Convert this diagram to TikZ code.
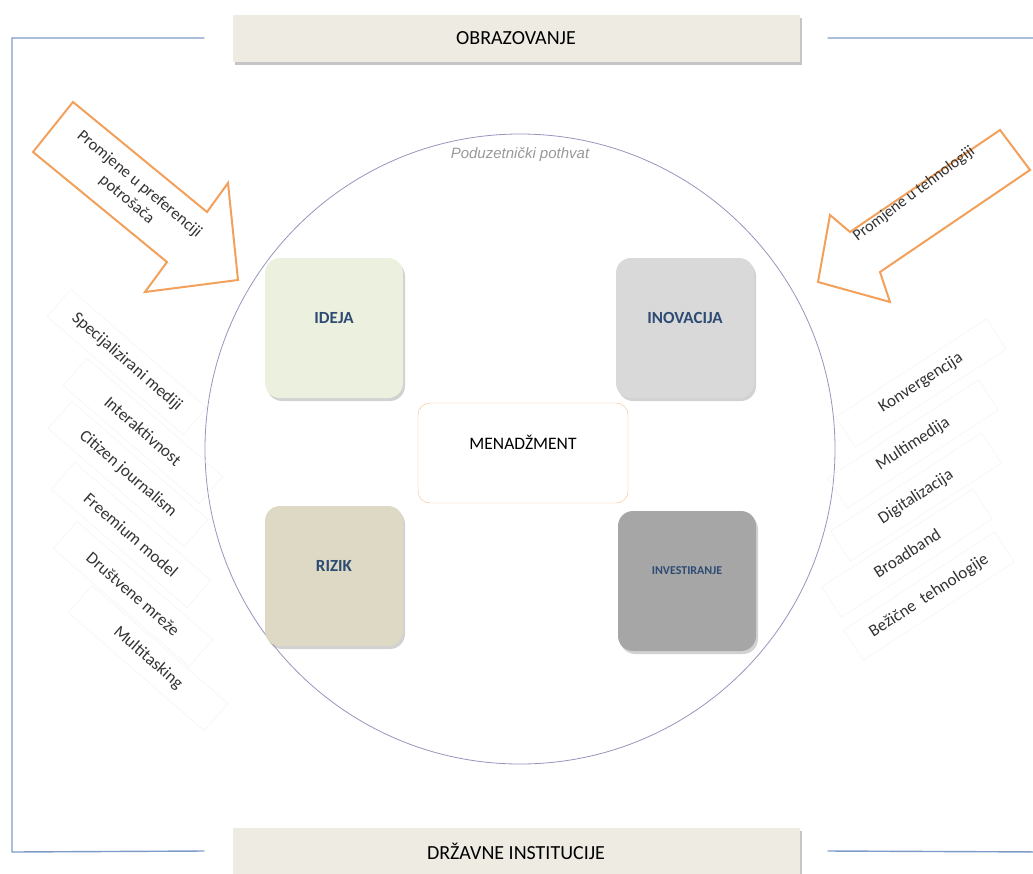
\documentclass[tikz,border=0pt]{standalone}
\usepackage{fontspec}
\setmainfont{Carlito}
\newfontfamily\arialfont{Liberation Sans}
\usetikzlibrary{positioning,shadows}
\definecolor{okvir}{RGB}{125,155,200}
\definecolor{traka}{RGB}{238,236,226}
\definecolor{narancasta}{RGB}{242,160,90}
\definecolor{krugboja}{RGB}{150,150,190}
\definecolor{plava}{RGB}{45,75,115}
\definecolor{ideja}{RGB}{235,241,222}
\definecolor{inovacija}{RGB}{217,217,217}
\definecolor{rizik}{RGB}{221,217,196}
\definecolor{investiranje}{RGB}{166,166,166}
\tikzset{
	bar/.style={fill=traka, minimum width=567pt, minimum height=47pt, font=\fontsize{20}{22}\selectfont,
		drop shadow={shadow xshift=2pt, shadow yshift=-3pt, opacity=.45}},
	kutija/.style={rounded corners=15pt, minimum width=138pt, minimum height=140pt, text=plava,
		font=\bfseries\fontsize{17}{19}\selectfont, text depth=20pt,
		drop shadow={shadow xshift=2pt, shadow yshift=-3pt, opacity=.35}},
	oznaka/.style={draw=black!5, minimum width=180pt, minimum height=36pt, text=black!80,
		font=\fontsize{17}{19}\selectfont},
	strelica/.style={draw=narancasta, line width=2pt, line join=miter}
}
\begin{document}
\begin{tikzpicture}[x=1pt,y=-1pt]
	\useasboundingbox (0,0) rectangle (1033,873);
	\fill[white] (0,0) rectangle (1033,873);

	\node (obrazovanje) [bar] at (516,38) {OBRAZOVANJE};
	\node (institucije) [bar] at (516,851) {DRŽAVNE INSTITUCIJE};
	\draw [okvir, line width=1.4pt] ([xshift=-28pt]obrazovanje.west) -- (12,38) -- (12,852) -- ([xshift=-28pt]institucije.west);
	\draw [okvir, line width=1.4pt] ([xshift=28pt]obrazovanje.east) -- (1045,38) -- (1045,852) -- ([xshift=28pt]institucije.east);

	\node (krug) [circle, draw=krugboja, line width=.8pt, minimum size=630pt] at (520,449) {};
	\node (naziv) [below=10pt of krug.north, text=black!40, font=\arialfont\itshape\fontsize{15}{17}\selectfont] {Poduzetnički pothvat};

	\node (idejabox) [kutija, fill=ideja] at (334,328) {IDEJA};
	\node (inovacijabox) [kutija, fill=inovacija] at (685,328) {INOVACIJA};
	\node (rizikbox) [kutija, fill=rizik] at (334,576) {RIZIK};
	\node (investiranjebox) [kutija, fill=investiranje, font=\bfseries\fontsize{12}{14}\selectfont] at (687,581) {INVESTIRANJE};
	\node (menadzment) [draw=narancasta!70, fill=white, rounded corners=12pt, minimum width=210pt, minimum height=100pt,
		text depth=22pt, font=\fontsize{17.5}{19}\selectfont] at (523,453) {MENADŽMENT};

	% strelice
	\draw [strelica] (73,102) -- (207,212) -- (228,183) -- (238,280) -- (145,292) -- (167,262) -- (33,152) -- cycle;
	\node (preferencije) [rotate=-40, align=center, text=black!80, font=\fontsize{16.5}{20}\selectfont] at (133,192) {Promjene u preferenciji\\potrošača};
	\draw [strelica] (1000,130) -- (850,232) -- (830,215) -- (818,282) -- (890,302) -- (880,272) -- (1030,170) -- cycle;
	\node (tehnologija) [rotate=37, text=black!80, font=\fontsize{16}{18}\selectfont] at (914,194) {Promjene u tehnologiji};

	\node (mediji) [oznaka, rotate=-41] at (127,362) {Specijalizirani mediji};
	\node (interaktivnost) [oznaka, rotate=-41] at (143,431) {Interaktivnost};
	\node (citizen) [oznaka, rotate=-41] at (128,474) {Citizen journalism};
	\node (freemium) [oznaka, rotate=-41] at (131,535) {Freemium model};
	\node (mreze) [oznaka, rotate=-41] at (133,594) {Društvene mreže};
	\node (multitasking) [oznaka, rotate=-41] at (148,658) {Multitasking};

	\node (konvergencija) [oznaka, rotate=33] at (921,383) {Konvergencija};
	\node (multimedija) [oznaka, rotate=33] at (913,444) {Multimedija};
	\node (digitalizacija) [oznaka, rotate=33] at (916,497) {Digitalizacija};
	\node (broadband) [oznaka, rotate=33] at (907,553) {Broadband};
	\node (bezicne) [oznaka, rotate=33] at (929,596) {Bežične\ \ tehnologije};
\end{tikzpicture}
\end{document}
